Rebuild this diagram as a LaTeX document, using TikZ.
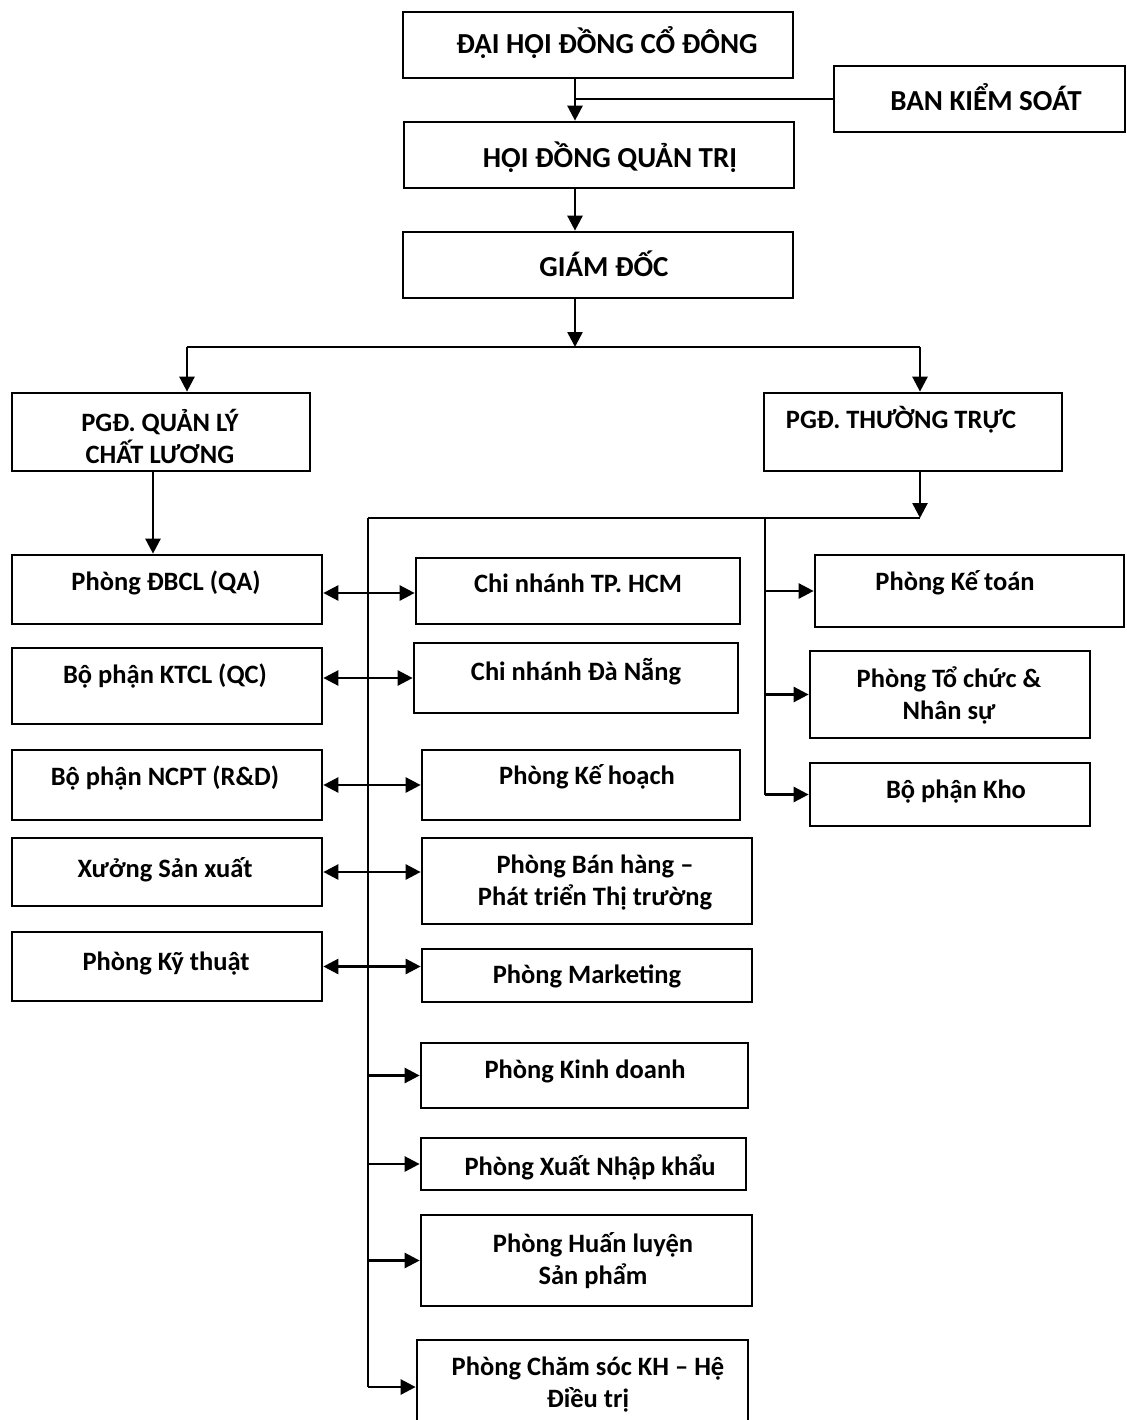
\documentclass[tikz,border=0pt]{standalone}
\usepackage{fontspec}
\setmainfont{Carlito}
\usetikzlibrary{arrows.meta,fit}
\begin{document}
\begin{tikzpicture}[x=1pt,y=-1pt,
  box/.style={draw, line width=2.7pt, inner sep=0pt},
  lbl/.style={font=\fontsize{26.5}{32}\selectfont\bfseries, align=center, inner sep=0pt},
  big/.style={font=\fontsize{29}{34}\selectfont\bfseries, align=center, inner sep=0pt},
  conn/.style={line width=2.6pt},
  arr/.style={conn, -{Triangle[length=15pt,width=15pt]}},
  darr/.style={conn, {Triangle[length=15pt,width=15pt]}-{Triangle[length=15pt,width=15pt]}}]
\useasboundingbox (0,0) rectangle (1126,1420);
% boxes
\node[box, fit={(403,12) (793,78)}] (dhdcd) {};
\node[box, fit={(834,66) (1125,132)}] (bks) {};
\node[box, fit={(404,122) (794,188)}] (hdqt) {};
\node[box, fit={(403,232) (793,298)}] (gd) {};
\node[box, fit={(12,393) (310,471)}] (pgdql) {};
\node[box, fit={(764,393) (1062,471)}] (pgdtt) {};
\node[box, fit={(12,555) (322,624)}] (dbcl) {};
\node[box, fit={(12,648) (322,724)}] (ktcl) {};
\node[box, fit={(12,750) (322,820)}] (ncpt) {};
\node[box, fit={(12,838) (322,906)}] (xsx) {};
\node[box, fit={(12,932) (322,1001)}] (kythuat) {};
\node[box, fit={(416,558) (740,624)}] (hcm) {};
\node[box, fit={(414,643) (738,713)}] (dn) {};
\node[box, fit={(422,750) (740,820)}] (kh) {};
\node[box, fit={(422,838) (752,924)}] (bh) {};
\node[box, fit={(422,949) (752,1002)}] (mkt) {};
\node[box, fit={(421,1043) (748,1108)}] (kd) {};
\node[box, fit={(421,1138) (746,1190)}] (xnk) {};
\node[box, fit={(421,1215) (752,1306)}] (hl) {};
\node[box, fit={(417,1340) (748,1434)}] (cs) {};
\node[box, fit={(815,555) (1124,627)}] (kt) {};
\node[box, fit={(810,651) (1090,738)}] (tc) {};
\node[box, fit={(810,763) (1090,826)}] (kho) {};
% labels
\node[big] (t-dhdcd) at (607,43) {ĐẠI HỘI ĐỒNG CỔ ĐÔNG};
\node[big] (t-bks) at (986,97) {BAN KIỂM SOÁT};
\node[big] (t-hdqt) at (610,157) {HỘI ĐỒNG QUẢN TRỊ};
\node[big] (t-gd) at (604,264) {GIÁM ĐỐC};
\node[lbl] (t-pgdql) at (160,436) {PGĐ. QUẢN LÝ\\CHẤT LƯƠNG};
\node[lbl] (t-pgdtt) at (901,420) {PGĐ. THƯỜNG TRỰC};
\node[lbl] (t-dbcl) at (166,583) {Phòng ĐBCL (QA)};
\node[lbl] (t-ktcl) at (165,676) {Bộ phận KTCL (QC)};
\node[lbl] (t-ncpt) at (165,778) {Bộ phận NCPT (R\&D)};
\node[lbl] (t-xsx) at (165,870) {Xưởng Sản xuất};
\node[lbl] (t-kythuat) at (166,964) {Phòng Kỹ thuật};
\node[lbl] (t-hcm) at (578,583) {Chi nhánh TP. HCM};
\node[lbl] (t-dn) at (576,672) {Chi nhánh Đà Nẵng};
\node[lbl] (t-kh) at (587,777) {Phòng Kế hoạch};
\node[lbl] (t-bh) at (595,883) {Phòng Bán hàng –\\Phát triển Thị trường};
\node[lbl] (t-mkt) at (587,976) {Phòng Marketing};
\node[lbl] (t-kd) at (585,1071) {Phòng Kinh doanh};
\node[lbl] (t-xnk) at (590,1167) {Phòng Xuất Nhập khẩu};
\node[lbl] (t-hl) at (593,1261) {Phòng Huấn luyện\\Sản phẩm};
\node[lbl] (t-cs) at (588,1385) {Phòng Chăm sóc KH – Hệ\\Điều trị};
\node[lbl] (t-kt) at (955,583) {Phòng Kế toán};
\node[lbl] (t-tc) at (949,695) {Phòng Tổ chức \&\\Nhân sự};
\node[lbl] (t-kho) at (956,792) {Bộ phận Kho};
% helper coordinates
\coordinate (sx) at (575,0);
\coordinate (lx) at (187,0);
\coordinate (rx) at (920,0);
\coordinate (qlx) at (153,0);
\coordinate (hbar) at (0,347);
\coordinate (bus) at (368,518);
\coordinate (rbx) at (765,0);
% connectors
\draw[arr] (sx |- dhdcd.south) -- (sx |- hdqt.north);
\draw[conn] (bks.west) -- (sx |- bks.west);
\draw[arr] (sx |- hdqt.south) -- (sx |- gd.north);
\draw[arr] (sx |- gd.south) -- (sx |- hbar);
\draw[conn] (lx |- hbar) -- (rx |- hbar);
\draw[arr] (lx |- hbar) -- (lx |- pgdql.north);
\draw[arr] (rx |- hbar) -- (rx |- pgdtt.north);
\draw[arr] (qlx |- pgdql.south) -- (qlx |- dbcl.north);
\draw[arr] (rx |- pgdtt.south) -- (rx |- bus);
\draw[conn] (bus) -- (rx |- bus);
\draw[conn] (bus) -- (bus |- cs.west);
\draw[conn] (rbx |- bus) -- (rbx |- kho.west);
\draw[arr] (rbx |- kt.west) -- (kt.west);
\draw[arr] (rbx |- tc.west) -- (tc.west);
\draw[arr] (rbx |- kho.west) -- (kho.west);
\draw[darr] ([yshift=-3.5pt]dbcl.east) -- ([yshift=-3.5pt]dbcl.east -| hcm.west);
\draw[darr] (ktcl.east |- dn.west) -- (dn.west);
\draw[darr] (ncpt.east) -- (ncpt.east -| kh.west);
\draw[darr] (xsx.east) -- (xsx.east -| bh.west);
\draw[darr] (kythuat.east) -- (kythuat.east -| mkt.west);
\draw[arr] (bus |- kd.west) -- (kd.west);
\draw[arr] (bus |- xnk.west) -- (xnk.west);
\draw[arr] (bus |- hl.west) -- (hl.west);
\draw[arr] (bus |- cs.west) -- (cs.west);
\end{tikzpicture}
\end{document}
